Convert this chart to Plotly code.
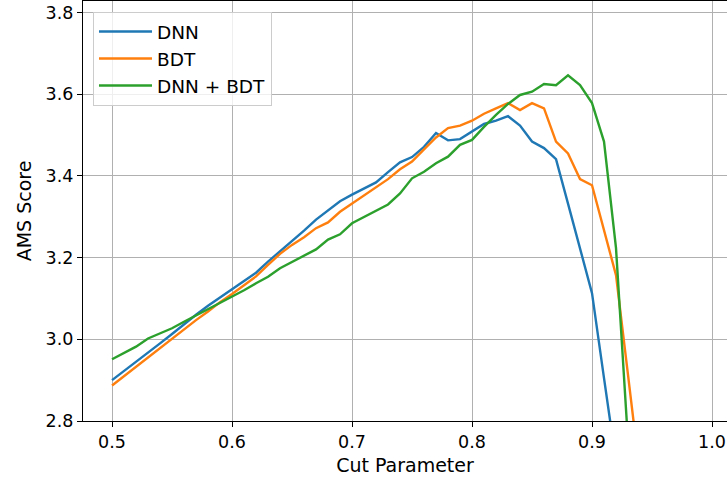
import plotly.graph_objects as go

cut_dnn = [0.50, 0.51, 0.52, 0.53, 0.54, 0.55, 0.56, 0.57, 0.58, 0.59,
           0.60, 0.61, 0.62, 0.63, 0.64, 0.65, 0.66, 0.67, 0.68, 0.69,
           0.70, 0.71, 0.72, 0.73, 0.74, 0.75, 0.76, 0.77, 0.78, 0.79,
           0.80, 0.81, 0.82, 0.83, 0.84, 0.85, 0.86, 0.87, 0.88, 0.89,
           0.90, 0.91, 0.92]
ams_dnn = [2.900, 2.922, 2.945, 2.968, 2.990, 3.013, 3.037, 3.060, 3.082, 3.102,
           3.121, 3.141, 3.163, 3.190, 3.215, 3.242, 3.266, 3.293, 3.316, 3.338,
           3.354, 3.368, 3.384, 3.409, 3.433, 3.446, 3.471, 3.505, 3.487, 3.490,
           3.508, 3.527, 3.535, 3.546, 3.523, 3.484, 3.468, 3.441, 3.332, 3.222,
           3.113, 2.905, 2.700]

cut_bdt = [0.50, 0.51, 0.52, 0.53, 0.54, 0.55, 0.56, 0.57, 0.58, 0.59,
           0.60, 0.61, 0.62, 0.63, 0.64, 0.65, 0.66, 0.67, 0.68, 0.69,
           0.70, 0.71, 0.72, 0.73, 0.74, 0.75, 0.76, 0.77, 0.78, 0.79,
           0.80, 0.81, 0.82, 0.83, 0.84, 0.85, 0.86, 0.87, 0.88, 0.89,
           0.90, 0.91, 0.92, 0.93, 0.94]
ams_bdt = [2.887, 2.910, 2.933, 2.957, 2.980, 3.002, 3.026, 3.047, 3.068, 3.091,
           3.111, 3.132, 3.154, 3.182, 3.209, 3.231, 3.250, 3.272, 3.286, 3.312,
           3.332, 3.351, 3.370, 3.392, 3.416, 3.435, 3.465, 3.494, 3.517, 3.523,
           3.535, 3.552, 3.565, 3.578, 3.561, 3.578, 3.565, 3.484, 3.455, 3.392,
           3.377, 3.268, 3.157, 2.913, 2.667]

cut_comb = [0.50, 0.51, 0.52, 0.53, 0.54, 0.55, 0.56, 0.57, 0.58, 0.59,
            0.60, 0.61, 0.62, 0.63, 0.64, 0.65, 0.66, 0.67, 0.68, 0.69,
            0.70, 0.71, 0.72, 0.73, 0.74, 0.75, 0.76, 0.77, 0.78, 0.79,
            0.80, 0.81, 0.82, 0.83, 0.84, 0.85, 0.86, 0.87, 0.88, 0.89,
            0.90, 0.91, 0.92, 0.93]
ams_comb = [2.951, 2.966, 2.982, 3.002, 3.015, 3.027, 3.043, 3.058, 3.075, 3.090,
            3.104, 3.120, 3.137, 3.153, 3.174, 3.190, 3.204, 3.220, 3.244, 3.257,
            3.284, 3.299, 3.313, 3.330, 3.357, 3.394, 3.410, 3.431, 3.447, 3.476,
            3.488, 3.520, 3.549, 3.576, 3.598, 3.606, 3.625, 3.622, 3.646, 3.622,
            3.578, 3.484, 3.223, 2.750]

x_ticks = [0.5, 0.6, 0.7, 0.8, 0.9, 1.0]
y_ticks = [2.8, 3.0, 3.2, 3.4, 3.6, 3.8]

font = "DejaVu Sans"
fig = go.Figure()
series = [("DNN", cut_dnn, ams_dnn, "#1f77b4"),
          ("BDT", cut_bdt, ams_bdt, "#ff7f0e"),
          ("DNN + BDT", cut_comb, ams_comb, "#2ca02c")]
for name, xs, ys, col in series:
    fig.add_trace(go.Scatter(x=xs, y=ys, mode="lines", name=name, legendgroup=name,
                             line=dict(color=col, width=2.4)))

fig.update_layout(
    width=727, height=486,
    margin=dict(l=83, r=0, t=1, b=65),
    paper_bgcolor="white", plot_bgcolor="white",
    font=dict(family=font, size=18, color="black"),
    showlegend=True,
    legend=dict(x=0.0155, y=0.974, xanchor="left", yanchor="top",
                bgcolor="rgba(255,255,255,0.8)", bordercolor="#cccccc", borderwidth=1,
                font=dict(family=font, size=18.5, color="black"),
                itemwidth=53, tracegroupgap=0),
    xaxis=dict(range=[0.4758, 1.0125], tickvals=x_ticks, tickformat=".1f",
               showgrid=True, gridcolor="#b0b0b0", gridwidth=1.3,
               showline=True, linecolor="black", linewidth=1.3, mirror=True,
               ticks="outside", ticklen=5, tickwidth=1.3, tickcolor="black",
               zeroline=False, tickfont=dict(family=font, size=17.5),
               ticklabeloverflow="allow",
               title=dict(text="Cut Parameter", font=dict(family=font, size=19), standoff=7)),
    yaxis=dict(range=[2.8, 3.828], tickvals=y_ticks, tickformat=".1f",
               showgrid=True, gridcolor="#b0b0b0", gridwidth=1.3,
               showline=True, linecolor="black", linewidth=1.3,
               ticks="outside", ticklen=5, tickwidth=1.3, tickcolor="black",
               zeroline=False, tickfont=dict(family=font, size=17.5),
               title=dict(text="AMS Score", font=dict(family=font, size=19), standoff=8)),
)

fig.write_html("out.html")
